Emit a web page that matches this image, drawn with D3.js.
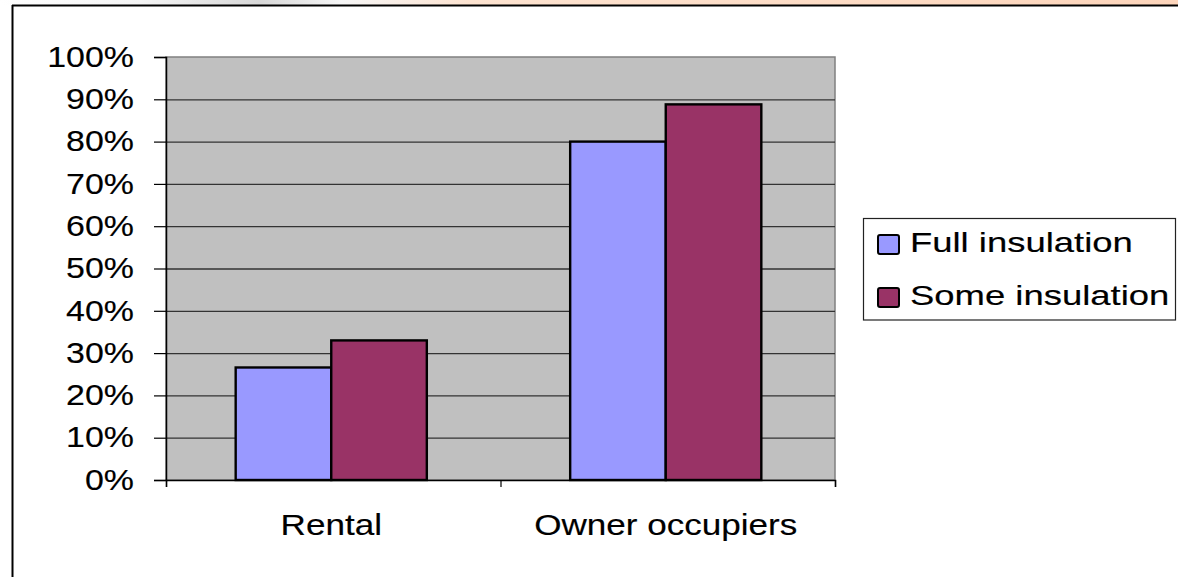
<!DOCTYPE html>
<html>
<head>
<meta charset="utf-8">
<script src="https://cdn.jsdelivr.net/npm/d3@7"></script>
<style>
  body { margin: 0; background: #fff; }
  svg { display: block; font-family: "Liberation Sans", Arial, sans-serif; }
</style>
</head>
<body>
<svg></svg>
<script>
const WIDTH = 1178
const HEIGHT = 577

const categories = ['Rental', 'Owner occupiers']
const series = ['Full insulation', 'Some insulation']
const fullValues = [0.266, 0.80]
const someValues = [0.33, 0.888]
const yTicks = [0, 0.1, 0.2, 0.3, 0.4, 0.5, 0.6, 0.7, 0.8, 0.9, 1]
const colors = ['#9999ff', '#993366']

const plot = { left: 166, right: 835, top: 57, bottom: 480 }

const svg = d3.select('svg')
  .attr('width', WIDTH)
  .attr('height', HEIGHT)

// top strip gradient above the frame line
const defs = svg.append('defs')
const grad = defs.append('linearGradient').attr('id', 'topstrip')
grad.selectAll('stop')
  .data([[0, '#ffffff'], [0.12, '#f4f4f4'], [0.22, '#d8d8d8'], [0.29, '#f6f6f6'], [0.4, '#fde3d0'], [1, '#fdd5bb']])
  .enter().append('stop')
  .attr('offset', d => d[0])
  .attr('stop-color', d => d[1])
svg.append('rect')
  .attr('x', 0).attr('y', 0)
  .attr('width', WIDTH).attr('height', 5)
  .attr('fill', 'url(#topstrip)')

// outer frame
svg.append('line')
  .attr('x1', 12).attr('x2', WIDTH)
  .attr('y1', 5.5).attr('y2', 5.5)
  .attr('stroke', '#000').attr('stroke-width', 2.2)
svg.append('line')
  .attr('x1', 12.5).attr('x2', 12.5)
  .attr('y1', 5).attr('y2', HEIGHT)
  .attr('stroke', '#000').attr('stroke-width', 2)

const x0 = d3.scaleBand()
  .domain(categories)
  .range([plot.left - 2, plot.right - 2])
  .padding(0)
const x1 = d3.scaleBand()
  .domain(series)
  .range([0, x0.bandwidth()])
  .paddingInner(0)
  .paddingOuter(0.75)
const y = d3.scaleLinear()
  .domain([0, 1])
  .range([plot.bottom, plot.top])

// plot background
svg.append('rect')
  .attr('x', plot.left).attr('y', plot.top)
  .attr('width', plot.right - plot.left)
  .attr('height', plot.bottom - plot.top)
  .attr('fill', '#c0c0c0')
  .attr('stroke', '#808080')
  .attr('stroke-width', 1.5)

// gridlines
svg.append('g')
  .attr('transform', `translate(${plot.left},0)`)
  .call(d3.axisLeft(y).tickValues(yTicks.filter(d => d > 0 && d < 1)).tickSize(-(plot.right - plot.left)).tickFormat(''))
  .call(g => g.select('.domain').remove())
  .call(g => g.selectAll('line').attr('stroke', '#333').attr('stroke-width', 1.3))

// bars
const data = categories.map((c, i) => ({ cat: c, vals: [fullValues[i], someValues[i]] }))
const groups = svg.append('g').selectAll('g')
  .data(data)
  .enter().append('g')
  .attr('transform', d => `translate(${x0(d.cat)},0)`)
groups.selectAll('rect')
  .data(d => d.vals.map((v, j) => ({ s: series[j], v: v, c: colors[j] })))
  .enter().append('rect')
  .attr('x', d => x1(d.s))
  .attr('y', d => y(d.v))
  .attr('width', x1.bandwidth())
  .attr('height', d => y(0) - y(d.v))
  .attr('fill', d => d.c)
  .attr('stroke', '#000')
  .attr('stroke-width', 2.4)

// y axis
svg.append('g')
  .attr('transform', `translate(${plot.left},0)`)
  .call(d3.axisLeft(y).tickValues(yTicks).tickSize(12).tickFormat(d3.format('.0%')))
  .call(g => g.select('.domain').attr('stroke', '#000').attr('stroke-width', 1.5))
  .call(g => g.selectAll('line').attr('stroke', '#000').attr('stroke-width', 1.2))
  .call(g => g.selectAll('text')
    .attr('x', null)
    .attr('transform', 'translate(-32,0) scale(1.17,1)')
    .attr('font-size', 29)
    .attr('font-family', '"Liberation Sans", Arial, sans-serif')
    .attr('fill', '#000')
    .attr('stroke', '#000')
    .attr('stroke-width', 0.15))

// x axis
const xb = d3.scaleLinear().domain([0, categories.length]).range([plot.left, plot.right])
svg.append('g')
  .attr('transform', `translate(0,${plot.bottom})`)
  .call(d3.axisBottom(xb).tickValues(d3.range(categories.length + 1)).tickSize(7).tickFormat(''))
  .call(g => g.select('.domain').attr('stroke', '#000').attr('stroke-width', 1.5))
  .call(g => g.selectAll('line').attr('stroke', '#000').attr('stroke-width', 1.2))

svg.append('g').selectAll('text')
  .data(categories)
  .enter().append('text')
  .attr('transform', d => `translate(${x0(d) + x0.bandwidth() / 2},535) scale(1.17,1)`)
  .attr('text-anchor', 'middle')
  .attr('font-size', 30)
  .attr('fill', '#000')
  .attr('stroke', '#000')
  .attr('stroke-width', 0.15)
  .text(d => d)

// legend
const legend = svg.append('g')
legend.append('rect')
  .attr('x', 863.5).attr('y', 218.5)
  .attr('width', 312).attr('height', 101.5)
  .attr('fill', '#fff')
  .attr('stroke', '#222')
  .attr('stroke-width', 1.2)
const items = legend.selectAll('g.item')
  .data(series)
  .enter().append('g')
  .attr('class', 'item')
  .attr('transform', (d, i) => `translate(0,${i * 53})`)
items.append('rect')
  .attr('x', 878).attr('y', 235)
  .attr('width', 21).attr('height', 19)
  .attr('rx', 2)
  .attr('fill', (d, i) => colors[i])
  .attr('stroke', '#000')
  .attr('stroke-width', 2)
items.append('text')
  .attr('transform', 'translate(910,252) scale(1.35,1)')
  .attr('font-size', 27)
  .attr('fill', '#000')
  .attr('stroke', '#000')
  .attr('stroke-width', 0.15)
  .text(d => d)
</script>
</body>
</html>
